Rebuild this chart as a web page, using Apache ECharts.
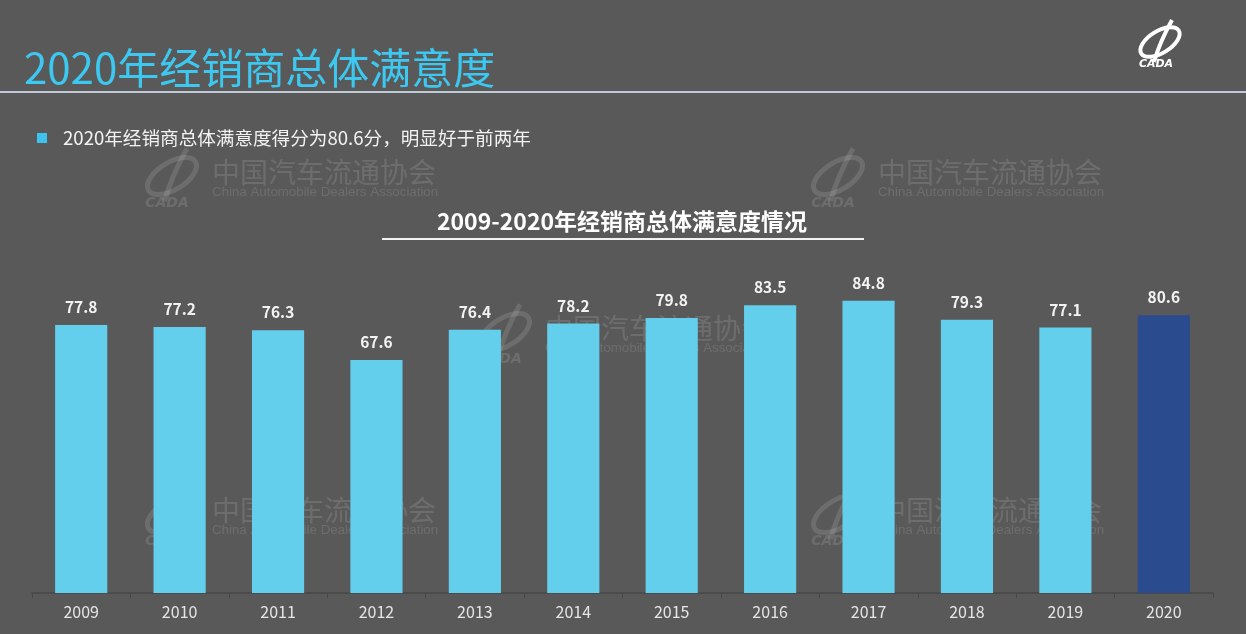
<!DOCTYPE html>
<html><head><meta charset="utf-8">
<script src="https://cdn.jsdelivr.net/npm/echarts@6/dist/echarts.min.js"></script>
<style>html,body{margin:0;padding:0;background:#595959;}#c{width:1246px;height:634px;}</style>
</head><body><div id="c"></div>
<script>
const categories = ['2009','2010','2011','2012','2013','2014','2015','2016','2017','2018','2019','2020'];
const scores = [77.8, 77.2, 76.3, 67.6, 76.4, 78.2, 79.8, 83.5, 84.8, 79.3, 77.1, 80.6];
const highlightYear = '2020';
const pageTitle = '2020年经销商总体满意度';
const bulletText = '2020年经销商总体满意度得分为80.6分，明显好于前两年';
const chartTitle = '2009-2020年经销商总体满意度情况';
const wmCN = '中国汽车流通协会';
const wmEN = 'China Automobile Dealers Association';

const CJK = '"Noto Sans CJK SC","Noto Sans",sans-serif';
const chart = echarts.init(document.getElementById('c'));

function logo(x, y, color, scale, z) {
  const s = scale;
  return [
    {type:'ellipse', z:z, shape:{cx:x, cy:y, rx:22*s, ry:11*s}, rotation:0.55, originX:x, originY:y,
     style:{fill:'none', stroke:color, lineWidth:4*s}, silent:true},
    {type:'bezierCurve', z:z, shape:{x1:x+12*s, y1:y-22*s, x2:x-6*s, y2:y+20*s, cpx1:x+2*s, cpy1:y-4*s, cpx2:x-2*s, cpy2:y+6*s},
     style:{stroke:color, lineWidth:4*s, fill:'none'}, silent:true},
    {type:'text', z:z, x:x-4*s, y:y+22*s, style:{text:'CADA', fill:color, font:'italic bold '+Math.round(11*s)+'px "DejaVu Sans",sans-serif', align:'center', verticalAlign:'middle'}, silent:true}
  ];
}
function watermark(x, y) {
  const c = 'rgba(255,255,255,0.12)';
  return [].concat(logo(x-40, y+4, c, 1.25, -1), [
    {type:'text', z:-1, x:x, y:y, style:{text:wmCN, fill:c, font:'28px '+CJK, verticalAlign:'middle'}, silent:true},
    {type:'text', z:-1, x:x, y:y+20, style:{text:wmEN, fill:c, font:'13.3px "Liberation Sans",Arial,sans-serif', verticalAlign:'middle'}, silent:true}
  ]);
}

const graphics = [].concat(
  watermark(212, 172), watermark(878, 172), watermark(545, 328), watermark(212, 510), watermark(878, 510),
  [
    {type:'text', x:24, y:68, style:{text:pageTitle, fill:'#3CC8F0', font:'42px '+CJK, verticalAlign:'middle'}},
    {type:'rect', shape:{x:0, y:91, width:1246, height:2}, style:{fill:'#BFCBD6'}},
    {type:'rect', shape:{x:37, y:133, width:10, height:10}, style:{fill:'#3CC3EE'}},
    {type:'text', x:63, y:138, style:{text:bulletText, fill:'#F2F2F2', font:'18.6px '+CJK, verticalAlign:'middle'}},
    {type:'text', x:622, y:221, style:{text:chartTitle, fill:'#FFFFFF', font:'bold 23px '+CJK, align:'center', verticalAlign:'middle'}},
    {type:'rect', shape:{x:382, y:238, width:482, height:2}, style:{fill:'#F2F2F2'}}
  ],
  logo(1160, 42, '#FFFFFF', 1, 10)
);

chart.setOption({
  backgroundColor:'#595959',
  animation:false,
  grid:{left:32, right:33, top:248.5, bottom:41, containLabel:false},
  xAxis:{type:'category', data:categories,
    axisLine:{lineStyle:{color:'#474747', width:1.5}},
    axisTick:{show:true, length:5, lineStyle:{color:'#474747'}},
    axisLabel:{color:'#E6E6E6', fontSize:16, margin:11, fontFamily:CJK}},
  yAxis:{type:'value', min:0, max:100, show:false, splitLine:{show:false}},
  series:[{type:'bar', barWidth:'53%', z:5,
    data:scores.map((v,i)=>({value:v, itemStyle:{color: categories[i]===highlightYear ? '#2A4B8D' : '#63CFEC'}})),
    label:{show:true, position:'top', distance:10, color:'#F2F2F2', fontWeight:'bold', fontSize:15.5, fontFamily:CJK}
  }],
  graphic:graphics
});
</script></body></html>
